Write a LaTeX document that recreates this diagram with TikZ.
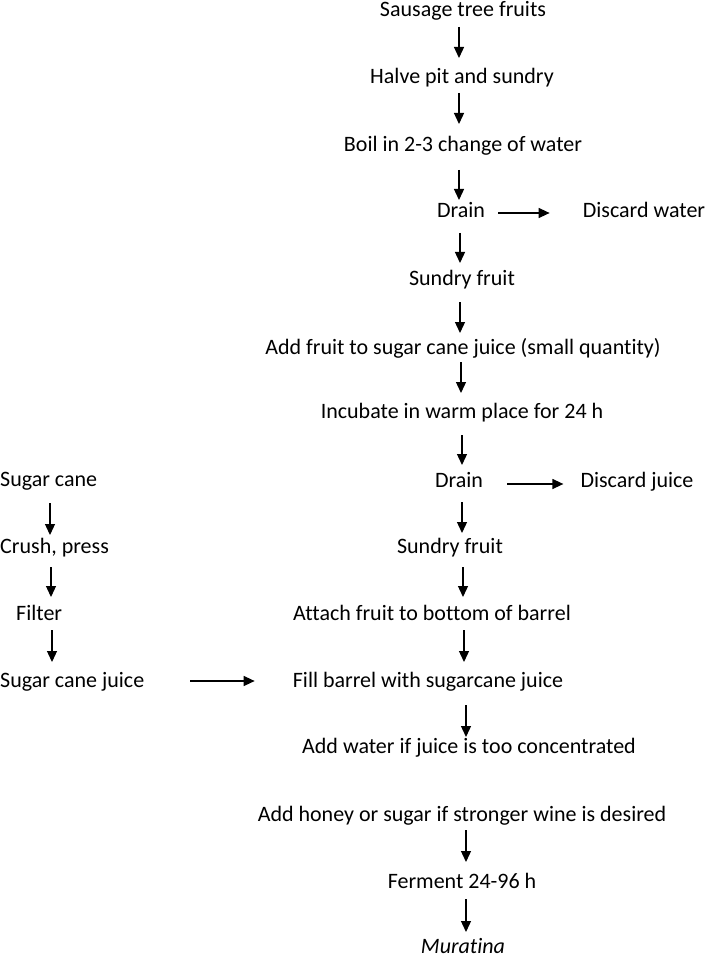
\documentclass[tikz,border=0pt]{standalone}
\usepackage{fontspec}
\setmainfont{Carlito}[Ligatures={NoCommon}]
\usetikzlibrary{arrows.meta}
\begin{document}
\begin{tikzpicture}[x=1pt,y=-1pt,
  lbl/.style={inner sep=0pt,anchor=base,font=\fontsize{22}{26}\selectfont},
  lblw/.style={lbl,anchor=base west},
  arr/.style={line width=1.3pt,-{Triangle[width=10pt,length=11pt]}}]
\useasboundingbox (0,0) rectangle (708,957);
% main column
\node[lbl] (s1) at (463,17) {Sausage tree fruits};
\node[lbl] (s2) at (462,84) {Halve pit and sundry};
\node[lbl] (s3) at (463,152) {Boil in 2-3 change of water};
\node[lbl] (s4) at (461,218) {Drain};
\node[lbl] (dw) at (644,218) {Discard water};
\node[lbl] (s5) at (462,285) {Sundry fruit};
\node[lbl] (s6) at (463,354) {Add fruit to sugar cane juice (small quantity)};
\node[lbl] (s7) at (462,418) {Incubate in warm place for 24 h};
\node[lbl] (s8) at (459,487) {Drain};
\node[lbl] (dj) at (637,487) {Discard juice};
\node[lbl] (s9) at (450,553) {Sundry fruit};
\node[lbl] (s10) at (432,620) {Attach fruit to bottom of barrel};
\node[lbl] (s11) at (428,687) {Fill barrel with sugarcane juice};
\node[lbl] (s12) at (469,753) {Add water if juice is too concentrated};
\node[lbl] (s13) at (462,821) {Add honey or sugar if stronger wine is desired};
\node[lbl] (s14) at (462,888) {Ferment 24-96 h};
\node[lbl] (s15) at (463,953) {\itshape Muratina};
% left column
\node[lblw] (l1) at (0,486) {Sugar cane};
\node[lblw] (l2) at (0,553) {Crush, press};
\node[lblw] (l3) at (16,620) {Filter};
\node[lblw] (l4) at (0,687) {Sugar cane juice};
% vertical arrows
\draw[arr,shorten <=10pt,shorten >=26pt] ([xshift=-4pt]s1.base) -- ([xshift=-3pt]s2.base);
\draw[arr,shorten <=9pt,shorten >=28pt] ([xshift=-3pt]s2.base) -- ([xshift=-4pt]s3.base);
\draw[arr,shorten <=18pt,shorten >=18pt] ([xshift=-4pt]s3.base) -- ([xshift=-2pt]s4.base);
\draw[arr,shorten <=15pt,shorten >=22pt] ([xshift=-1pt]s4.base) -- ([xshift=-2pt]s5.base);
\draw[arr,shorten <=17pt,shorten >=21pt] ([xshift=-2pt]s5.base) -- ([xshift=-3pt]s6.base);
\draw[arr,shorten <=8pt,shorten >=25pt] ([xshift=-2pt]s6.base) -- ([xshift=-1pt]s7.base);
\draw[arr,shorten <=17pt,shorten >=22pt] ([xshift=0pt]s7.base) -- ([xshift=3pt]s8.base);
\draw[arr,shorten <=15pt,shorten >=20pt] ([xshift=3pt]s8.base) -- ([xshift=12pt]s9.base);
\draw[arr,shorten <=14pt,shorten >=23pt] ([xshift=13pt]s9.base) -- ([xshift=31pt]s10.base);
\draw[arr,shorten <=10pt,shorten >=25pt] ([xshift=32pt]s10.base) -- ([xshift=36pt]s11.base);
\draw[arr,shorten <=18pt,shorten >=16pt] ([xshift=38pt]s11.base) -- ([xshift=-3pt]s12.base);
\draw[arr,shorten <=9pt,shorten >=26pt] ([xshift=4pt]s13.base) -- ([xshift=4pt]s14.base);
\draw[arr,shorten <=11pt,shorten >=21pt] ([xshift=4pt]s14.base) -- ([xshift=3pt]s15.base);
% left arrows
\draw[arr,shorten <=17pt,shorten >=18pt] ([xshift=50pt]l1.base west) -- ([xshift=50pt]l2.base west);
\draw[arr,shorten <=14pt,shorten >=23pt] ([xshift=51pt]l2.base west) -- ([xshift=35pt]l3.base west);
\draw[arr,shorten <=10pt,shorten >=25pt] ([xshift=36pt]l3.base west) -- ([xshift=52pt]l4.base west);
% horizontal arrows
\draw[arr,shorten <=13pt,shorten >=33pt] ([yshift=5pt]s4.base east) -- ([yshift=5pt]dw.base west);
\draw[arr,shorten <=24pt,shorten >=17pt] ([yshift=3pt]s8.base east) -- ([yshift=3pt]dj.base west);
\draw[arr,shorten <=46pt,shorten >=38pt] ([yshift=6pt]l4.base east) -- ([yshift=6pt]s11.base west);
\end{tikzpicture}
\end{document}
